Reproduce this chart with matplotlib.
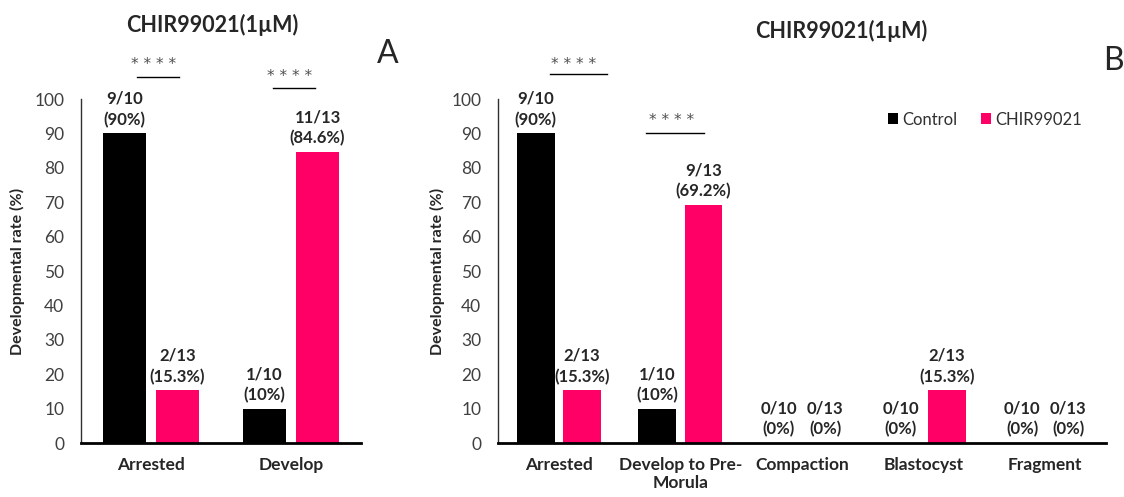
import matplotlib.pyplot as plt
import numpy as np

plt.rcParams['font.family'] = ['Lato', 'DejaVu Sans']

# Panel A: arrested vs developed
cats_a = ["Arrested", "Develop"]
ctrl_n_a = [9, 1]
chir_n_a = [2, 11]
ctrl_pct_a = [90, 10]
chir_pct_a = [15.3, 84.6]

# Panel B: developmental stages
cats_b = ["Arrested", "Develop to Pre-\nMorula", "Compaction", "Blastocyst", "Fragment"]
ctrl_n_b = [9, 1, 0, 0, 0]
chir_n_b = [2, 9, 0, 2, 0]
ctrl_pct_b = [90, 10, 0, 0, 0]
chir_pct_b = [15.3, 69.2, 0, 15.3, 0]

ctrl_total = 10
chir_total = 13
series = ["Control", "CHIR99021"]
yticks = list(range(0, 101, 10))
title = "CHIR99021(1\u00b5M)"

BLACK = "#000000"
PINK = "#FF0066"
TXT = "#262626"
W = 1124
H = 497


def style_axes(ax, cats):
    ax.set_ylim(0, 100)
    ax.set_xlim(-0.5, len(cats) - 0.5)
    ax.set_yticks(yticks)
    ax.set_xticks(np.arange(len(cats)))
    ax.set_xticklabels(cats, fontsize=12.5, fontweight="bold", color=TXT, linespacing=1.2)
    ax.tick_params(axis="y", length=0, pad=12, labelsize=12.5, labelcolor="#404040")
    ax.tick_params(axis="x", length=0, pad=10)
    for s in ["top", "right"]:
        ax.spines[s].set_visible(False)
    ax.spines["left"].set_color("#303030")
    ax.spines["left"].set_linewidth(1.0)
    ax.spines["bottom"].set_color(BLACK)
    ax.spines["bottom"].set_linewidth(2.0)
    ax.set_ylabel("Developmental rate (%)", fontsize=11.5, fontweight="bold", color=TXT)


def draw_bars(ax, ctrl_pct, chir_pct, ctrl_n, chir_n):
    x = np.arange(len(ctrl_pct))
    width = 0.31
    off = 0.19
    b1 = ax.bar(x - off, ctrl_pct, width, color=BLACK, label=series[0])
    b2 = ax.bar(x + off, chir_pct, width, color=PINK, label=series[1])
    for bars, pcts, ns, tot in [(b1, ctrl_pct, ctrl_n, ctrl_total), (b2, chir_pct, chir_n, chir_total)]:
        for bar, p, n in zip(bars, pcts, ns):
            ax.annotate(f"{n}/{tot}\n({p:g}%)", (bar.get_x() + bar.get_width() / 2, p),
                        xytext=(0, 4), textcoords="offset points", ha="center", va="bottom",
                        fontsize=12, fontweight="bold", color=TXT, linespacing=1.35,
                        annotation_clip=False)


def sig(ax, x0, x1, y_line, xs, ys):
    # significance bar with asterisks above it
    ax.plot([x0, x1], [y_line, y_line], color=BLACK, lw=1.0, clip_on=False)
    ax.text(xs, ys, "* * * *", ha="center", va="center", fontsize=11, color="#505050",
            family="DejaVu Sans", clip_on=False)


fig = plt.figure(figsize=(W / 100, H / 100), dpi=100)

ax_a = fig.add_axes([81 / W, 1 - 443 / H, 280 / W, 344 / H])
draw_bars(ax_a, ctrl_pct_a, chir_pct_a, ctrl_n_a, chir_n_a)
style_axes(ax_a, cats_a)
ax_a.yaxis.set_label_coords(-0.2, 0.5)
sig(ax_a, -0.1, 0.2, 106.4, 0.02, 110.0)
sig(ax_a, 0.87, 1.17, 103.2, 0.99, 106.6)

ax_b = fig.add_axes([498 / W, 1 - 443 / H, 608 / W, 344 / H])
draw_bars(ax_b, ctrl_pct_b, chir_pct_b, ctrl_n_b, chir_n_b)
style_axes(ax_b, cats_b)
ax_b.yaxis.set_label_coords(-0.087, 0.5)
sig(ax_b, -0.07, 0.40, 107.3, 0.125, 110.0)
sig(ax_b, 0.72, 1.19, 90.1, 0.93, 93.8)
ax_b.legend(loc="center left", bbox_to_anchor=(0.628, 0.94), frameon=False, ncol=2,
            fontsize=12, handlelength=0.6, handleheight=0.6, handletextpad=0.25,
            columnspacing=1.4, borderpad=0, labelcolor="#303030")

fig.text(212 / W, 1 - 25 / H, title, ha="center", va="center", fontsize=15.5, fontweight="bold", color=TXT)
fig.text(841 / W, 1 - 31 / H, title, ha="center", va="center", fontsize=15.5, fontweight="bold", color=TXT)
fig.text(388 / W, 1 - 54 / H, "A", ha="center", va="center", fontsize=23, color=TXT)
fig.text(1113 / W, 1 - 61 / H, "B", ha="center", va="center", fontsize=23, color=TXT)

fig.savefig("out.png", dpi=100)
